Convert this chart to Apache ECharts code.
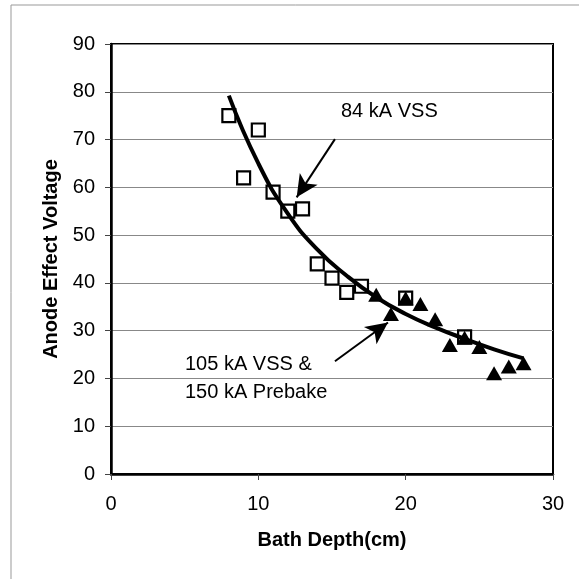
<!DOCTYPE html>
<html>
<head>
<meta charset="utf-8">
<script src="https://cdn.jsdelivr.net/npm/echarts@6/dist/echarts.min.js"></script>
<style>
  html, body { margin: 0; padding: 0; background: #fff; }
  #chart { width: 579px; height: 579px; }
</style>
</head>
<body>
<div id="chart"></div>
<script>
// 84 kA VSS (open squares)
var squareDepth = [8, 9, 10, 11, 12, 13, 14, 15, 16, 17, 20, 24];
var squareVolt  = [75, 62, 72, 59, 55, 55.5, 44, 41, 38, 39.3, 36.8, 28.7];
// 105 kA VSS & 150 kA Prebake (filled triangles)
var triDepth = [18, 19, 20, 21, 22, 23, 24, 25, 26, 27, 28];
var triVolt  = [37.5, 33.5, 36.8, 35.6, 32.4, 27, 28.5, 26.6, 21.1, 22.5, 23.2];
// trend curve
var trendDepth = [8, 10, 12, 14, 16, 18, 20, 22, 24, 26, 28];
var trendVolt  = [79.2, 65, 54.5, 47, 41.5, 37, 33.5, 30.7, 28.3, 26.1, 24.2];
// tick labels
var xTicks = [0, 10, 20, 30];
var yTicks = [0, 10, 20, 30, 40, 50, 60, 70, 80, 90];

function pairs(xs, ys) {
  return xs.map(function (x, i) { return [x, ys[i]]; });
}

var font = '"Liberation Sans", Arial, sans-serif';
var chart = echarts.init(document.getElementById('chart'));

var option = {
  animation: false,
  backgroundColor: '#fff',
  grid: {
    left: 111, top: 44, right: 26, bottom: 105,
    show: true, borderColor: '#000', borderWidth: 2, backgroundColor: 'transparent'
  },
  xAxis: {
    type: 'value',
    min: xTicks[0], max: xTicks[xTicks.length - 1], interval: 10,
    name: 'Bath Depth(cm)', nameLocation: 'middle', nameGap: 56,
    nameTextStyle: { fontFamily: font, fontSize: 20, fontWeight: 'bold', color: '#000' },
    axisLine: { show: true, lineStyle: { color: '#000', width: 2.5 } },
    axisTick: { show: true, length: 6, lineStyle: { color: '#444', width: 1 } },
    axisLabel: { margin: 20, fontFamily: font, fontSize: 20, color: '#000' },
    splitLine: { show: false }
  },
  yAxis: {
    type: 'value',
    min: yTicks[0], max: yTicks[yTicks.length - 1], interval: 10,
    name: 'Anode Effect Voltage', nameLocation: 'middle', nameGap: 50,
    nameTextStyle: { fontFamily: font, fontSize: 20, fontWeight: 'bold', color: '#000' },
    axisLine: { show: true, lineStyle: { color: '#000', width: 2.5 } },
    axisTick: { show: true, length: 6, lineStyle: { color: '#444', width: 1 } },
    axisLabel: { margin: 16, fontFamily: font, fontSize: 20, color: '#000' },
    splitLine: { show: true, lineStyle: { color: '#888', width: 1 } }
  },
  graphic: [
    // outer frame of the chart area
    { type: 'rect', silent: true, z: 0,
      shape: { x: 11, y: 5, width: 700, height: 700 },
      style: { fill: 'none', stroke: '#999', lineWidth: 1 } },
    { type: 'text', left: 341, top: 101, z: 10,
      style: { text: '84 kA VSS', font: '20px ' + font, fill: '#000' } },
    { type: 'text', left: 185, top: 350, z: 10,
      style: { text: '105 kA VSS &\n150 kA Prebake', font: '20px ' + font, fill: '#000', lineHeight: 28 } }
  ],
  series: [
    {
      name: '84 kA VSS', type: 'scatter', z: 2,
      data: pairs(squareDepth, squareVolt),
      symbol: 'rect', symbolSize: 13,
      itemStyle: { color: '#fff', borderColor: '#000', borderWidth: 2.2, opacity: 1 }
    },
    {
      name: '105 kA VSS & 150 kA Prebake', type: 'scatter', z: 3,
      data: pairs(triDepth, triVolt),
      symbol: 'triangle', symbolSize: [16, 14],
      itemStyle: { color: '#000', opacity: 1 }
    },
    {
      name: 'trend', type: 'line', z: 4,
      data: pairs(trendDepth, trendVolt),
      smooth: true, showSymbol: false, symbol: 'none',
      lineStyle: { color: '#000', width: 4 },
      markLine: {
        silent: true,
        symbol: ['none', 'arrow'], symbolSize: [16, 22],
        label: { show: false },
        lineStyle: { color: '#000', width: 2, type: 'solid' },
        data: [
          [{ coord: [15.2, 70.1] }, { coord: [12.6, 57.9] }],
          [{ coord: [15.2, 23.6] }, { coord: [18.8, 31.7] }]
        ]
      }
    }
  ]
};

chart.setOption(option);
</script>
</body>
</html>
